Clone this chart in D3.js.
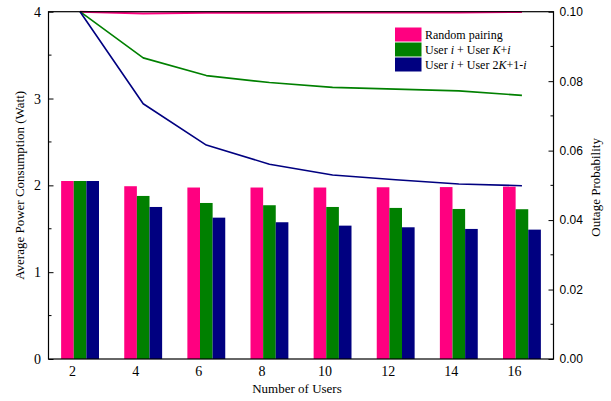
<!DOCTYPE html>
<html>
<head>
<meta charset="utf-8">
<script src="https://cdn.jsdelivr.net/npm/d3@7"></script>
<style>
  html, body { margin: 0; padding: 0; background: #fff; }
  svg { display: block; }
</style>
</head>
<body>
<svg id="chart" width="611" height="401"></svg>
<script>
// Number of users K
const users = [2, 4, 6, 8, 10, 12, 14, 16];

// Series colours: random pairing, user i + user K+i, user i + user 2K+1-i
const colors = ["#FF0080", "#008000", "#000080"];

// Average power consumption (Watt) — bars, left axis
const powerRandom = [2.05, 1.99, 1.975, 1.975, 1.975, 1.978, 1.98, 1.985];
const powerKi     = [2.05, 1.878, 1.797, 1.771, 1.751, 1.74, 1.728, 1.725];
const power2K     = [2.05, 1.751, 1.628, 1.575, 1.536, 1.517, 1.498, 1.49];

// Outage probability — lines, right axis
const outRandom = [0.1, 0.0995, 0.0997, 0.0997, 0.0998, 0.0998, 0.0998, 0.0999];
const outKi     = [0.1, 0.0867, 0.0816, 0.0796, 0.0782, 0.0777, 0.0772, 0.0759];
const out2K     = [0.1, 0.0735, 0.0616, 0.0561, 0.0530, 0.0516, 0.0504, 0.0499];

// Axis ticks
const leftTicks = [0, 1, 2, 3, 4];
const rightTicks = [0, 0.02, 0.04, 0.06, 0.08, 0.10];

const SERIF = "Liberation Serif";
const SANS = "Liberation Sans";

const powerSeries = [powerRandom, powerKi, power2K];
const outageSeries = [outRandom, outKi, out2K];

const svg = d3.select("#chart");
const m = { left: 48.5, right: 553.5, top: 11.7, bottom: 359 };

const x = d3.scaleLinear().domain([1, 17]).range([m.left, m.right]);
const yL = d3.scaleLinear().domain([0, 4]).range([m.bottom, m.top]);
const yR = d3.scaleLinear().domain([0, 0.1]).range([m.bottom, m.top]);

// bar geometry in data units: three bars per group
const barW = 0.4;
const groupOffsets = [-1, 0, 1];

// Bars
const gBars = svg.append("g");
powerSeries.forEach((vals, s) => {
  gBars.selectAll(null)
    .data(users.map((u, i) => ({ u, v: vals[i] })))
    .join("rect")
    .attr("x", d => x(d.u + groupOffsets[s] * barW - barW / 2))
    .attr("width", d => x(d.u + barW / 2) - x(d.u - barW / 2))
    .attr("y", d => yL(d.v))
    .attr("height", d => yL(0) - yL(d.v))
    .attr("fill", colors[s]);
});

// Lines
const line = d3.line().x(d => x(d.u)).y(d => yR(d.v));
outageSeries.forEach((vals, s) => {
  svg.append("path")
    .datum(users.map((u, i) => ({ u, v: vals[i] })))
    .attr("d", line)
    .attr("fill", "none")
    .attr("stroke", colors[s])
    .attr("stroke-width", s === 0 ? 2 : 1.6)
    .attr("stroke-linejoin", "round");
});

// Frame
svg.append("rect")
  .attr("x", m.left).attr("y", m.top)
  .attr("width", m.right - m.left).attr("height", m.bottom - m.top)
  .attr("fill", "none").attr("stroke", "#000").attr("stroke-width", 1.2);

// Left axis (ticks inward)
const leftAxis = d3.axisLeft(yL).tickValues(leftTicks).tickSizeInner(-5).tickSizeOuter(0)
  .tickFormat(d3.format("d"));
const gL = svg.append("g").attr("transform", `translate(${m.left},0)`).call(leftAxis)
  .attr("font-family", SERIF).attr("font-size", 14);
gL.select(".domain").remove();
gL.selectAll("text").attr("x", -7.5).attr("fill", "#000");
// minor left ticks
svg.append("g").selectAll("line")
  .data([0.5, 1.5, 2.5, 3.5]).join("line")
  .attr("x1", m.left).attr("x2", m.left + 3)
  .attr("y1", d => yL(d)).attr("y2", d => yL(d))
  .attr("stroke", "#000");

// Right axis (ticks inward)
const rightAxis = d3.axisRight(yR).tickValues(rightTicks).tickSizeInner(-5).tickSizeOuter(0)
  .tickFormat(d3.format(".2f"));
const gR = svg.append("g").attr("transform", `translate(${m.right},0)`).call(rightAxis)
  .attr("font-family", SANS).attr("font-size", 12);
gR.select(".domain").remove();
gR.selectAll("text").attr("x", 6).attr("fill", "#000");
svg.append("g").selectAll("line")
  .data([0.01, 0.03, 0.05, 0.07, 0.09]).join("line")
  .attr("x1", m.right).attr("x2", m.right - 3)
  .attr("y1", d => yR(d)).attr("y2", d => yR(d))
  .attr("stroke", "#000");

// Bottom axis labels (no tick marks)
const bottomAxis = d3.axisBottom(x).tickValues(users).tickSize(0);
const gB = svg.append("g").attr("transform", `translate(0,${m.bottom})`).call(bottomAxis)
  .attr("font-family", SERIF).attr("font-size", 14);
gB.select(".domain").remove();
gB.selectAll("text").attr("y", 7.5).attr("dx", -8).attr("fill", "#000");

// Axis titles
svg.append("text")
  .attr("font-family", SERIF).attr("font-size", 13)
  .attr("x", (m.left + m.right) / 2 - 4).attr("y", 393)
  .attr("text-anchor", "middle")
  .text("Number of Users");

svg.append("text")
  .attr("font-family", SERIF).attr("font-size", 13)
  .attr("transform", `translate(24,${(m.top + m.bottom) / 2}) rotate(-90)`)
  .attr("text-anchor", "middle")
  .text("Average Power Consumption (Watt)");

svg.append("text")
  .attr("font-family", SERIF).attr("font-size", 13)
  .attr("transform", `translate(600,${(m.top + m.bottom) / 2 + 2}) rotate(-90)`)
  .attr("text-anchor", "middle")
  .text("Outage Probability");

// Legend
const legend = svg.append("g").attr("transform", "translate(395,27.5)");
const legendItems = [
  [{ t: "Random pairing" }],
  [{ t: "User " }, { t: "i", i: true }, { t: " + User " }, { t: "K", i: true }, { t: "+" }, { t: "i", i: true }],
  [{ t: "User " }, { t: "i", i: true }, { t: " + User 2" }, { t: "K", i: true }, { t: "+1-" }, { t: "i", i: true }]
];
legendItems.forEach((parts, k) => {
  const row = legend.append("g").attr("transform", `translate(0,${k * 15})`);
  row.append("rect").attr("width", 26.5).attr("height", 14).attr("fill", colors[k]);
  const txt = row.append("text").attr("x", 30).attr("y", 11)
    .attr("font-family", SERIF).attr("font-size", 12).attr("fill", "#000");
  parts.forEach(p => {
    txt.append("tspan").text(p.t).attr("font-style", p.i ? "italic" : "normal");
  });
});
</script>
</body>
</html>
